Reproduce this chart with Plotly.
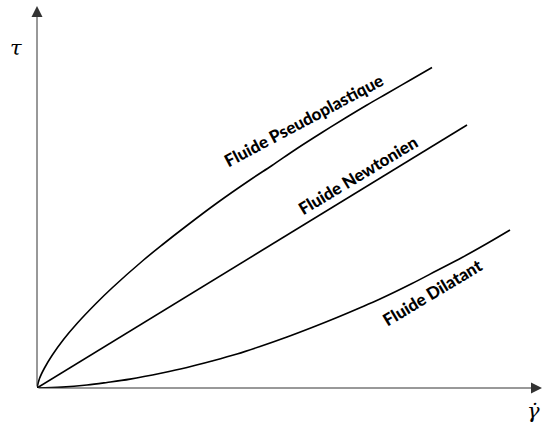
import plotly.graph_objects as go

# Shear rate (x) and shear stress (y) for the three rheological behaviours
pseudo_x = [0, 0.05, 0.15, 0.3, 0.53, 0.8, 1.19, 1.5, 2.12, 2.5, 3.0, 3.6, 4.26, 4.7, 5.2, 5.7, 6.2, 6.6, 7.0, 7.45, 7.9]
pseudo_y = [0, 0.19, 0.40, 0.65, 0.97, 1.29, 1.70, 2.00, 2.55, 2.86, 3.25, 3.70, 4.16, 4.45, 4.79, 5.11, 5.42, 5.66, 5.89, 6.15, 6.41]

newton_x = [0, 8.6]
newton_y = [0, 5.26]

dilat_x = [0, 0.5, 1.0, 1.4, 1.86, 2.5, 3.0, 3.5, 4.0, 4.46, 5.0, 5.5, 6.0, 6.45, 6.86, 7.5, 8.0, 8.5, 9.0, 9.46]
dilat_y = [0, 0.017, 0.059, 0.11, 0.177, 0.30, 0.41, 0.54, 0.68, 0.83, 1.02, 1.21, 1.41, 1.60, 1.78, 2.09, 2.35, 2.61, 2.89, 3.16]

labels = ["Fluide Pseudoplastique", "Fluide Newtonien", "Fluide Dilatant"]
label_x = [5.32, 6.4, 7.9]
label_y = [5.36, 4.26, 1.92]
label_angle = [-28, -31, -31]

X_MAX = 10.1
Y_MAX = 7.64

LABEL_FONT = "Lato"
SYMBOL_FONT = "DejaVu Serif"

fig = go.Figure()
for xs, ys in [(pseudo_x, pseudo_y), (newton_x, newton_y), (dilat_x, dilat_y)]:
    fig.add_trace(go.Scatter(
        x=xs, y=ys, mode="lines",
        line=dict(color="black", width=1.6, shape="spline", smoothing=1.0),
        hoverinfo="skip", showlegend=False,
    ))

annotations = []
# Axis lines with arrow heads
for tip_x, tip_y in [(0, Y_MAX), (X_MAX, 0)]:
    annotations.append(dict(
        x=tip_x, y=tip_y, xref="x", yref="y",
        ax=0, ay=0, axref="x", ayref="y",
        showarrow=True, arrowhead=2, arrowsize=2.2, arrowwidth=1,
        arrowcolor="#333333", text="",
    ))

# Curve labels
for t, lx, ly, ang in zip(labels, label_x, label_y, label_angle):
    annotations.append(dict(
        x=lx, y=ly, xref="x", yref="y", text=t,
        textangle=ang, showarrow=False,
        font=dict(family=LABEL_FONT, size=17, color="black", weight=900),
    ))

# Axis symbols: shear stress and shear rate
annotations.append(dict(
    x=-0.058, y=0.928, xref="paper", yref="paper", text="<i>τ</i>",
    showarrow=False,
    font=dict(family=SYMBOL_FONT, size=21, color="black"),
))
annotations.append(dict(
    x=1.0, y=-0.097, xref="paper", yref="paper", text="<i>γ̇</i>",
    showarrow=False,
    font=dict(family=SYMBOL_FONT, size=21, color="black"),
))

fig.update_layout(
    width=542, height=430,
    margin=dict(l=37, r=0, t=6, b=42),
    paper_bgcolor="white", plot_bgcolor="white",
    xaxis=dict(range=[0, X_MAX], visible=False, fixedrange=True),
    yaxis=dict(range=[0, Y_MAX], visible=False, fixedrange=True),
    annotations=annotations,
)

fig.write_html("out.html")
